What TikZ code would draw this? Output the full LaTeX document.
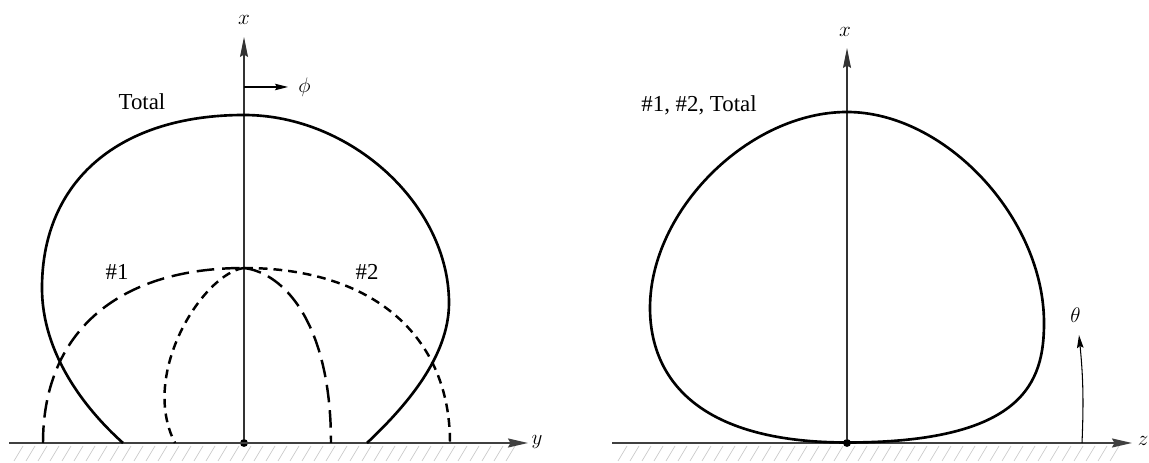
\documentclass[tikz,border=0pt]{standalone}
\usepackage{fontspec}
\setmainfont{Liberation Serif}
\usetikzlibrary{arrows.meta,positioning}

\begin{document}
\begin{tikzpicture}[x=0.2mm, y=0.2mm, font=\fontsize{13}{15}\selectfont,
  axis/.style={line width=0.6pt, black!80, -{Stealth[length=4mm, width=1.6mm, inset=0.5mm]}},
  ground/.style={line width=1.1pt, black!75, -{Stealth[length=4mm, width=1.8mm, inset=0.5mm]}},
  hatch/.style={black!20, line width=0.4pt},
  total/.style={line width=1.5pt},
  longdash/.style={line width=1.4pt, dash pattern=on 10pt off 4.5pt},
  shortdash/.style={line width=1.4pt, dash pattern=on 5pt off 3.4pt},
  dot/.style={circle, fill, inner sep=0pt, minimum size=4.5pt},
  lbl/.style={inner sep=0pt},
  arr/.style={line width=0.6pt, -{Stealth[length=2.6mm, width=1.3mm, inset=0.4mm]}}]
\useasboundingbox (0,0) rectangle (1149,463);
% hatching under the two ground lines
\foreach \hx in {14,26,...,512}\draw[hatch] (\hx,2) -- ++(9,15);
\foreach \hx in {618,630,...,1120}\draw[hatch] (\hx,2) -- ++(9,15);
% left picture: y-x plane
\node[dot] (o1) at (244,20) {};
\coordinate (g1s) at (9,20);
\coordinate (g1e) at (528,20);
\coordinate (x1tip) at (244,426);
\coordinate (phi0) at (244,376);
\coordinate (phi1) at (288,376);
\draw[ground] (g1s) -- (g1e);
\draw[axis] (o1) -- (x1tip);
\draw[arr] (phi0) -- (phi1);
\node[lbl] (x1) at (244,443) {$x$};
\node[lbl] (y1) at (537,21) {$y$};
\node[lbl, right=2mm of phi1] (phi) {$\phi$};
\node[lbl] (tot1) at (142,361) {Total};
\node[lbl] (n1) at (117,191) {\#1};
\node[lbl] (n2) at (367,191) {\#2};
\begin{scope}[shift={(o1)}]
\draw[total] (-121,0) .. controls (-160,35) and (-202,90) .. (-202,155)
  .. controls (-202,262) and (-125,328) .. (0,328)
  .. controls (107,328) and (205,238) .. (205,140)
  .. controls (205,85) and (160,35) .. (123,0);
\draw[longdash] (-201,0) .. controls (-201,110) and (-127,175) .. (0,175);
\draw[longdash] (0,175) .. controls (40,170) and (87,120) .. (87,0);
\draw[shortdash] (0,175) .. controls (128,175) and (206,108) .. (206,0);
\draw[shortdash] (0,175) .. controls (-40,170) and (-105,70) .. (-69,0);
\end{scope}
% right picture: z-x plane
\node[dot] (o2) at (847,20) {};
\coordinate (g2s) at (612,20);
\coordinate (g2e) at (1132,20);
\coordinate (x2tip) at (847,415);
\coordinate (th0) at (1082,20);
\coordinate (th1) at (1079,128);
\draw[ground] (g2s) -- (g2e);
\draw[axis] (o2) -- (x2tip);
\draw[arr] (th0) to[bend right=4] (th1);
\node[lbl] (x2) at (845,431) {$x$};
\node[lbl] (z2) at (1143,22) {$z$};
\node[lbl, above=2.5mm of th1, xshift=-0.7mm] (th) {$\theta$};
\node[lbl] (tot2) at (699,358) {\#1, \#2, Total};
\begin{scope}[shift={(o2)}]
\draw[total] (0,0.5) .. controls (177,0.5) and (197,61) .. (197,120)
  .. controls (197,225) and (98,331) .. (0,331)
  .. controls (-98,331) and (-197,233) .. (-197,135)
  .. controls (-197,85) and (-172,0.5) .. (0,0.5) -- cycle;
\end{scope}
\end{tikzpicture}
\end{document}
